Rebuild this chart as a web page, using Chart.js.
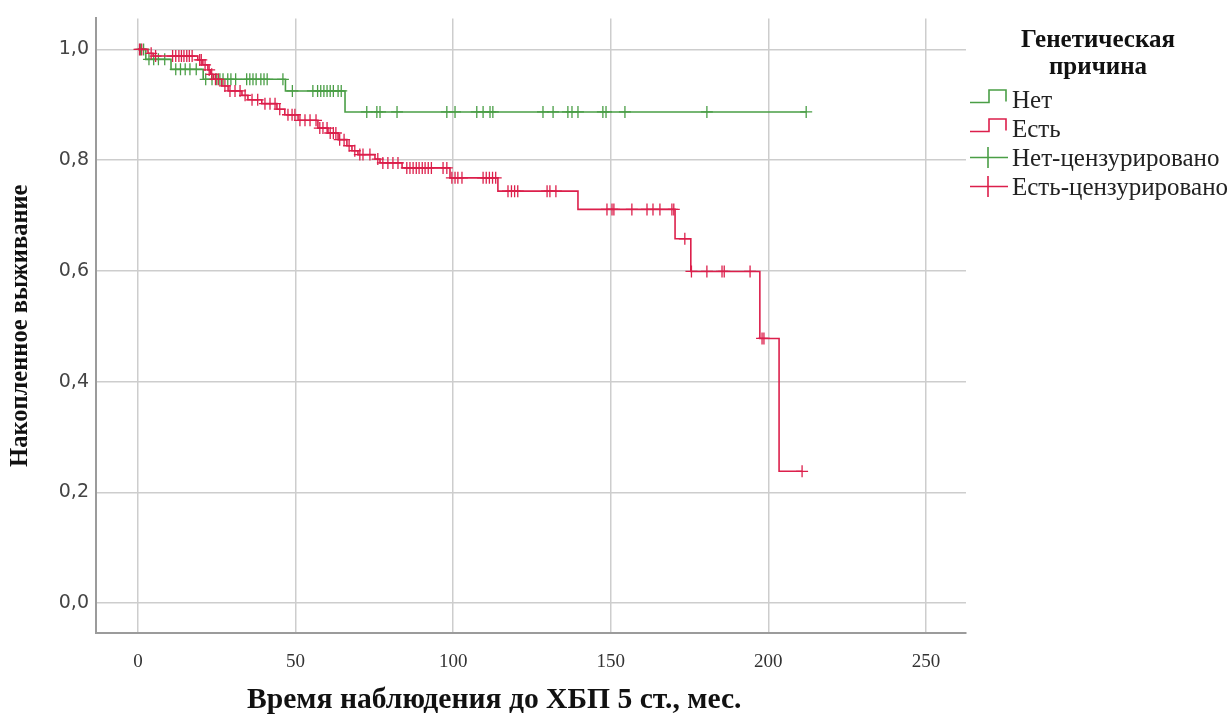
<!DOCTYPE html>
<html lang="ru">
<head>
<meta charset="utf-8">
<title>Накопленное выживание</title>
<script src="https://cdn.jsdelivr.net/npm/chart.js@4.4.1/dist/chart.umd.min.js"></script>
<style>
  html, body { margin: 0; padding: 0; background: #fff; }
  #wrap { position: relative; width: 1228px; height: 718px; overflow: hidden; }
  #chart { position: absolute; left: 0; top: 0; }
  .xtitle { position: absolute; left: 247px; top: 682px; font: bold 29.6px 'Liberation Serif', serif; color: #111; white-space: nowrap; }
  .legend { position: absolute; left: 968px; top: 25px; font-family: 'Liberation Serif', serif; color: #222; }
  .legend h3 { margin: 0 0 6px 0; width: 260px; text-align: center; font-size: 25px; line-height: 27px; font-weight: bold; color: #111; }
  .legend .row { display: flex; align-items: center; height: 29px; font-size: 25px; white-space: nowrap; }
  .legend svg { width: 44px; height: 29px; flex: none; }
</style>
</head>
<body>
<div id="wrap">
  <canvas id="chart" width="1228" height="718"></canvas>
  <div class="xtitle">Время наблюдения до ХБП 5 ст., мес.</div>
  <div class="legend">
    <h3>Генетическая<br>причина</h3>
    <div class="row"><svg><path d="M2 17.5 H21 V5 H38 V16.5" fill="none" stroke="#4a9e46" stroke-width="1.6"/></svg>Нет</div>
    <div class="row"><svg><path d="M2 17.5 H21 V5 H38 V16.5" fill="none" stroke="#dc1f4b" stroke-width="1.6"/></svg>Есть</div>
    <div class="row"><svg><path d="M2 14.5 H40 M20 4 V25" fill="none" stroke="#4a9e46" stroke-width="1.6"/></svg>Нет-цензурировано</div>
    <div class="row"><svg><path d="M2 14.5 H40 M20 4 V25" fill="none" stroke="#dc1f4b" stroke-width="1.6"/></svg>Есть-цензурировано</div>
  </div>
</div>
<script>
const GREEN = '#4a9e46';
const RED = '#dc1f4b';

// Kaplan-Meier steps: time of event (months) and survival after it
const GREEN_TIMES = [0, 2.5, 10.5, 20.7, 46.8, 65.7, 212];
const GREEN_SURV  = [1.0, 0.982, 0.964, 0.946, 0.925, 0.887, 0.887];

const RED_TIMES = [0, 3.2, 4.8, 19.0, 20.6, 22.2, 23.0, 24.0, 26.6, 28.6, 33.0, 34.9, 39.3, 44.1, 46.6, 50.8,
  57.1, 60.3, 63.5, 66.3, 67.9, 69.8, 75.2, 76.8, 83.8, 99.0, 114.2, 139.6, 170.4, 175.4, 197.3, 203.4, 210.7];
const RED_SURV = [1.0, 0.993, 0.988, 0.981, 0.972, 0.963, 0.955, 0.946, 0.934, 0.925, 0.917, 0.909, 0.902, 0.892, 0.882, 0.872,
  0.858, 0.849, 0.837, 0.826, 0.817, 0.810, 0.802, 0.795, 0.786, 0.768, 0.744, 0.711, 0.658, 0.599, 0.478, 0.238, 0.238];

// censored observations (months)
const GREEN_CENSORED = [0.8, 1.8, 3.5, 5, 6.5, 8.5, 12, 13.5, 15, 16.5, 18.5, 21.5, 23.5, 25, 26, 27, 28.5, 29.5, 31,
  34.5, 35.5, 36.5, 37.5, 39, 40, 41, 46, 49, 55.5, 57, 58, 59, 60, 61, 62, 63.5, 64.5, 72.6, 75.8, 76.8, 82.2,
  98, 100.6, 107.5, 109.5, 111.7, 112.6, 128.5, 131.7, 136.4, 137.7, 139.6, 147.5, 148.5, 154.5, 180.5, 212];
const RED_CENSORED = [0.5, 1.2, 4.2, 5.6, 11, 12, 13, 13.8, 14.6, 15.5, 16.3, 17.2, 19.6, 20.1, 21.3, 22.6, 23.4,
  24.6, 25.5, 27.6, 29.2, 30.8, 32.4, 34, 36.2, 38, 40.3, 41.9, 43.5, 45, 47.6, 48.9, 49.8, 51.4, 53, 54.6, 56.5,
  57.7, 58.7, 60, 61, 62, 62.8, 64, 65.4, 67, 68.8, 70.4, 71.4, 73.6, 76.1, 77.7, 79.3, 80.9, 82.5, 85.3, 86.3,
  87.3, 88.3, 89.2, 90.2, 91.1, 92.1, 93.1, 96.8, 98, 99.6, 100.6, 101.5, 102.8, 109.5, 110.5, 111.5, 112.5,
  113.5, 117.4, 118.5, 119.5, 120.5, 129.8, 130.7, 132.6, 148.8, 150.4, 151, 156.7, 161.5, 163.4, 165.6, 169.4,
  170, 173.5, 175.6, 180.5, 185.3, 186, 194.2, 198, 198.6, 210.7];

const X_TICKS = [0, 50, 100, 150, 200, 250];
const Y_TICKS = [0, 0.2, 0.4, 0.6, 0.8, 1.0];

const toPoints = (times, surv) => times.map((t, i) => ({ x: t, y: surv[i] }));

function survivalAt(times, surv, t) {
  let s = surv[0];
  for (let i = 0; i < times.length; i++) {
    if (times[i] <= t) s = surv[i];
  }
  return s;
}

const censorPoints = (cens, times, surv) => cens.map(t => ({ x: t, y: survivalAt(times, surv, t) }));

const stepLine = (label, points, color) => ({
  label, data: points, showLine: true, stepped: true,
  borderColor: color, borderWidth: 1.6, pointRadius: 0, fill: false,
});

const censorSet = (label, points, color) => ({
  label, data: points, showLine: false,
  pointStyle: 'cross', pointRadius: 6, pointBorderWidth: 1.3,
  borderColor: color, backgroundColor: color,
});

const gridOpts = { color: '#cdcdcd', lineWidth: 1.5, drawTicks: false };
const borderOpts = { color: '#9b9b9b', width: 2 };

new Chart(document.getElementById('chart'), {
  type: 'scatter',
  data: {
    datasets: [
      censorSet('Есть-цензурировано', censorPoints(RED_CENSORED, RED_TIMES, RED_SURV), RED),
      stepLine('Есть', toPoints(RED_TIMES, RED_SURV), RED),
      censorSet('Нет-цензурировано', censorPoints(GREEN_CENSORED, GREEN_TIMES, GREEN_SURV), GREEN),
      stepLine('Нет', toPoints(GREEN_TIMES, GREEN_SURV), GREEN),
    ]
  },
  options: {
    responsive: false,
    animation: false,
    layout: { padding: { top: 15, right: 262, left: 0, bottom: 0 } },
    plugins: { legend: { display: false }, tooltip: { enabled: false } },
    scales: {
      x: {
        type: 'linear', min: -13.3, max: 262.7,
        afterBuildTicks: s => { s.ticks = X_TICKS.map(v => ({ value: v })); },
        afterFit: s => { s.height = 85; },
        grid: gridOpts, border: borderOpts,
        ticks: {
          padding: 18, color: '#333',
          font: { family: "'Liberation Serif', serif", size: 19 },
        },
      },
      y: {
        type: 'linear', min: -0.054, max: 1.056,
        afterBuildTicks: s => { s.ticks = Y_TICKS.map(v => ({ value: v })); },
        afterFit: s => { s.width = 96; },
        grid: gridOpts, border: borderOpts,
        ticks: {
          padding: 7, color: '#444',
          font: { family: "'DejaVu Sans', sans-serif", size: 19 },
          callback: v => v.toFixed(1).replace('.', ','),
        },
        title: {
          display: true, text: 'Накопленное выживание', color: '#111',
          font: { family: "'Liberation Serif', serif", size: 24.5, weight: 'bold' },
          padding: { top: 6, bottom: 0 },
        },
      },
    },
  },
});
</script>
</body>
</html>
